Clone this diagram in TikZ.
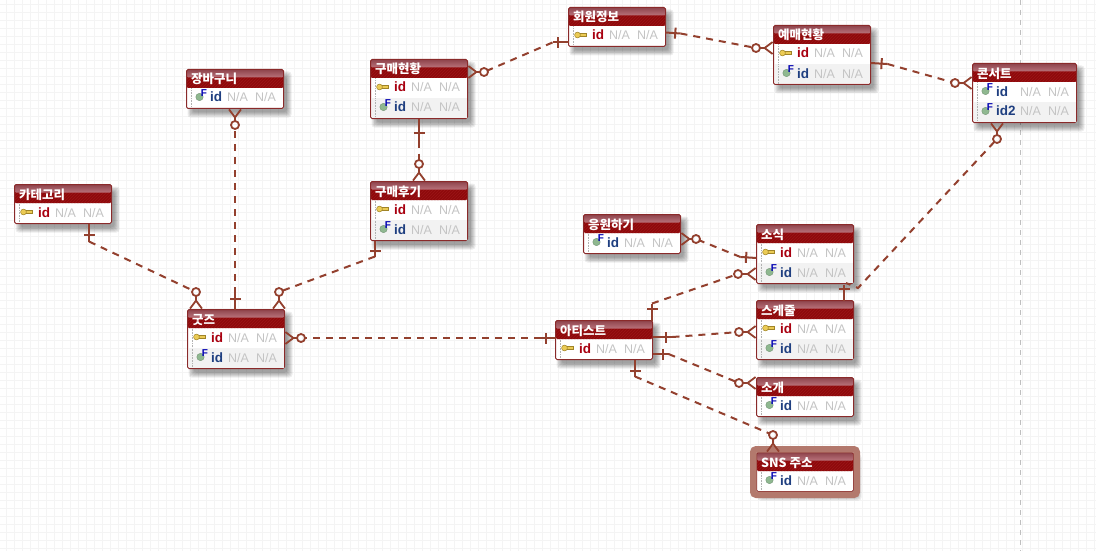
\documentclass[tikz,border=0pt]{standalone}
\usepackage{fontspec}
\setmainfont{Liberation Sans}
\newfontfamily\krfont{Noto Sans CJK KR}
\usetikzlibrary{calc,arrows.meta,patterns}
\definecolor{relcolor}{HTML}{93402E}
\definecolor{boxedge}{HTML}{8A2A2A}
\definecolor{headtop}{HTML}{A8505A}
\definecolor{headlow}{HTML}{8E0A0C}
\definecolor{headline}{HTML}{9C1518}
\definecolor{keyred}{HTML}{A80010}
\definecolor{fkblue}{HTML}{1F3F80}
\definecolor{nagray}{HTML}{C4C4C4}
\definecolor{keygold}{HTML}{EBCB55}
\definecolor{keyedge}{HTML}{A08428}
\definecolor{fkgreen}{HTML}{8FB890}
\tikzset{
  entitybox/.style={draw=boxedge,line width=1pt,fill=white,rounded corners=1.5pt,anchor=north west,
    inner sep=0pt,outer sep=0pt,path picture={
      \fill[headlow] (path picture bounding box.north west) rectangle ([yshift=-18.5pt]path picture bounding box.north east);
      \fill[pattern=north east lines,pattern color=headline] (path picture bounding box.north west) rectangle ([yshift=-18.5pt]path picture bounding box.north east);
      \shade[top color=headtop!85!black,bottom color=headtop!80!white] (path picture bounding box.north west) rectangle ([yshift=-8pt]path picture bounding box.north east);
    }},
  titletext/.style={anchor=base west,text=white,inner sep=0pt,font=\krfont\bfseries\fontsize{12.5}{12.5}\selectfont},
  idkey/.style={anchor=base west,text=keyred,inner sep=0pt,font=\bfseries\fontsize{13.5}{13.5}\selectfont},
  idfk/.style={idkey,text=fkblue},
  natext/.style={anchor=base west,text=nagray,inner sep=0pt,font=\fontsize{12.5}{12.5}\selectfont},
  ficon/.style={anchor=base,text=blue!70!black,inner sep=0pt,font=\bfseries\fontsize{10}{10}\selectfont},
  relsolid/.style={relcolor,line width=2pt},
  reldash/.style={relcolor,line width=2pt,dash pattern=on 7pt off 6pt},
  tickmark/.style={fill=relcolor,inner sep=0pt,minimum width=2pt,minimum height=11pt,sloped},
  ringend/.style={draw=relcolor,line width=1.8pt,circle,inner sep=0pt,minimum size=8pt,outer sep=0pt},
  crowfoot/.style={-{Straight Barb[reversed,length=8pt,width=12pt,line width=1.8pt]}},
  gridline/.style={draw=black!4.5,line width=1pt}
}
% name, left, top, width, height, title
\newcommand{\entity}[6]{
  \foreach \s in {0,1,...,5}
    \fill[black,opacity=.07,rounded corners=3pt] ({#2+6-\s},{#3+7-\s}) rectangle ({#2+#4+5+\s-2},{#3+#5+6+\s-2});
  \node[entitybox,minimum width=#4pt,minimum height=#5pt] (#1) at (#2,#3) {};
  \node[titletext] (#1-t) at ([shift={(4.5pt,-14.5pt)}]#1.north west) {#6};
  \draw[densely dotted,black!30,line width=.6pt] ([shift={(5pt,-19pt)}]#1.north west) -- ([shift={(5pt,1pt)}]#1.south west);
}
% name, row, x of first N/A
\newcommand{\narow}[3]{
  \node[natext] (#1-a#2) at ([shift={(#3pt,{-12.5pt-20pt*#2})}]#1.north west) {N/A};
  \node[natext] (#1-b#2) at ([shift={({#3pt+28pt},{-12.5pt-20pt*#2})}]#1.north west) {N/A};
}
\newcommand{\keyrow}[3][40.5]{
  \coordinate (k) at ([shift={(9.5pt,{-7.5pt-20pt*#3})}]#2.north west);
  \fill[keygold,draw=keyedge,line width=.5pt] ($(k)+(0,1.4pt)$) rectangle ($(k)+(8.5pt,-1.6pt)$);
  \fill[keygold,draw=keyedge,line width=.5pt] ($(k)+(-.5pt,0)$) circle (2.9pt);
  \node[idkey] (#2-i#3) at ([shift={(23.5pt,{-12.5pt-20pt*#3})}]#2.north west) {id};
  \narow{#2}{#3}{#1}
}
\newcommand{\fkrow}[4][40.5]{
  \ifnum#3=2 \fill[black!5] ([shift={(1pt,-38.5pt)}]#2.north west) rectangle ([shift={(-1pt,1pt)}]#2.south east);
    \draw[densely dotted,black!30,line width=.6pt] ([shift={(5pt,-39pt)}]#2.north west) -- ([shift={(5pt,1pt)}]#2.south west);\fi
  \coordinate (k) at ([shift={(13pt,{-7.5pt-20pt*#3})}]#2.north west);
  \fill[fkgreen,draw=fkgreen!80!black,line width=.4pt] (k) circle (3.7pt);
  \node[ficon] (#2-f#3) at ([shift={(4.5pt,.5pt)}]k) {F};
  \node[idfk] (#2-i#3) at ([shift={(23.5pt,{-12.5pt-20pt*#3})}]#2.north west) {#4};
  \narow{#2}{#3}{#1}
}
% one end, stub offset, ring centre, many end
\newcommand{\rel}[4]{
  \coordinate (s) at ($#1+#2$);
  \node[ringend] (r) at (#3) {};
  \draw[relsolid] #1 -- node[tickmark,pos=.65]{} (s);
  \draw[reldash] (s) -- (r);
  \draw[relsolid,crowfoot] (r) -- #4;
}
\begin{document}
\begin{tikzpicture}[x=1pt,y=-1pt]
  \useasboundingbox (0,0) rectangle (1096,551);
  \fill[white] (0,0) rectangle (1096,551);
  \foreach \x in {6,14,...,1094}
    \draw[gridline] (\x+.5,0) -- (\x+.5,551);
  \foreach \y in {4,12,...,548}
    \draw[gridline] (0,\y+.5) -- (1096,\y+.5);
  \draw[black!25,line width=1pt,dash pattern=on 5pt off 5pt] (1020.5,0) -- (1020.5,551);

  \entity{member}{568.5}{7.5}{97}{39}{회원정보}
  \keyrow{member}{1}
  \entity{booking}{773.5}{25.5}{97}{59}{예매현황}
  \keyrow{booking}{1}
  \fkrow{booking}{2}{id}
  \entity{concert}{972.5}{63.5}{104}{59}{콘서트}
  \fkrow[47.5]{concert}{1}{id}
  \fkrow[47.5]{concert}{2}{id2}
  \entity{order}{370.5}{59.5}{97}{59}{구매현황}
  \keyrow{order}{1}
  \fkrow{order}{2}{id}
  \entity{review}{370.5}{181.5}{97}{59}{구매후기}
  \keyrow{review}{1}
  \fkrow{review}{2}{id}
  \entity{cart}{186.5}{69.5}{97}{39}{장바구니}
  \fkrow{cart}{1}{id}
  \entity{category}{14.5}{184.5}{97}{39}{카테고리}
  \keyrow{category}{1}
  \entity{goods}{187.5}{309.5}{97}{59}{굿즈}
  \keyrow{goods}{1}
  \fkrow{goods}{2}{id}
  \entity{artist}{555.5}{320.5}{97}{39}{아티스트}
  \keyrow{artist}{1}
  \entity{cheer}{583.5}{214.5}{97}{39}{응원하기}
  \fkrow{cheer}{1}{id}
  \entity{news}{756.5}{224.5}{97}{59}{소식}
  \keyrow{news}{1}
  \fkrow{news}{2}{id}
  \entity{schedule}{756.5}{300.5}{97}{59}{스케줄}
  \keyrow{schedule}{1}
  \fkrow{schedule}{2}{id}
  \entity{intro}{756.5}{377.5}{97}{39}{소개}
  \fkrow{intro}{1}{id}
  \entity{sns}{756.5}{452.5}{97}{39}{SNS 주소}
  \fkrow{sns}{1}{id}
  \draw[draw=relcolor!70!white,line width=6.5pt,rounded corners=3pt] ([shift={(-3.25pt,3.25pt)}]sns.north west) rectangle ([shift={(3.25pt,-3.25pt)}]sns.south east);

  \rel{([xshift=74.5pt]category.south west)}{(0,18)}{196,292}{([xshift=8.5pt]goods.north west)}
  \rel{([xshift=47.5pt]goods.north west)}{(0,-16)}{235,125}{([xshift=48.5pt]cart.south west)}
  \rel{([xshift=4.5pt]review.south west)}{(0,16)}{279,292}{([xshift=91.5pt]goods.north west)}
  \rel{([xshift=48.5pt]order.south west)}{(0,22)}{419,164}{([xshift=48.5pt]review.north west)}
  \rel{([yshift=-35pt]member.north west)}{(-16,0)}{484,72}{([yshift=-12.5pt]order.north east)}
  \rel{([yshift=-25pt]member.north east)}{(15,1)}{756,48}{([yshift=-22.5pt]booking.north west)}
  \rel{([yshift=-37.5pt]booking.north east)}{(17,1)}{955,83}{([yshift=-19.5pt]concert.north west)}
  \rel{([yshift=-33.5pt]news.north west)}{(-16,-1)}{696,239}{([yshift=-24.5pt]cheer.north east)}
  \rel{([xshift=-.5pt]artist.north east)}{(0,-17)}{738,274}{([yshift=-49.5pt]news.north west)}
  \rel{([yshift=-16.5pt]artist.north east)}{(20,0)}{739,332}{([yshift=-31.5pt]schedule.north west)}
  \rel{([yshift=-33.5pt]artist.north east)}{(16,0)}{739,383}{([yshift=-5.5pt]intro.north west)}
  \rel{([xshift=79.5pt]artist.south west)}{(0,17)}{773,435}{([xshift=16.5pt]sns.north west)}
  \rel{([yshift=-17.5pt]artist.north west)}{(-15,0)}{301,338}{([yshift=-28.5pt]goods.north east)}

  \coordinate (w) at (858,288);
  \coordinate (u) at (846,283);
  \node[ringend] (r) at (997,139) {};
  \draw[relsolid] ([xshift=87.5pt]schedule.north west) -- node[tickmark,pos=.7]{} ++(0,-16);
  \draw[reldash] (r) -- (w) -- (u);
  \draw[relsolid,crowfoot] (r) -- ([xshift=24.5pt]concert.south west);
\end{tikzpicture}
\end{document}
